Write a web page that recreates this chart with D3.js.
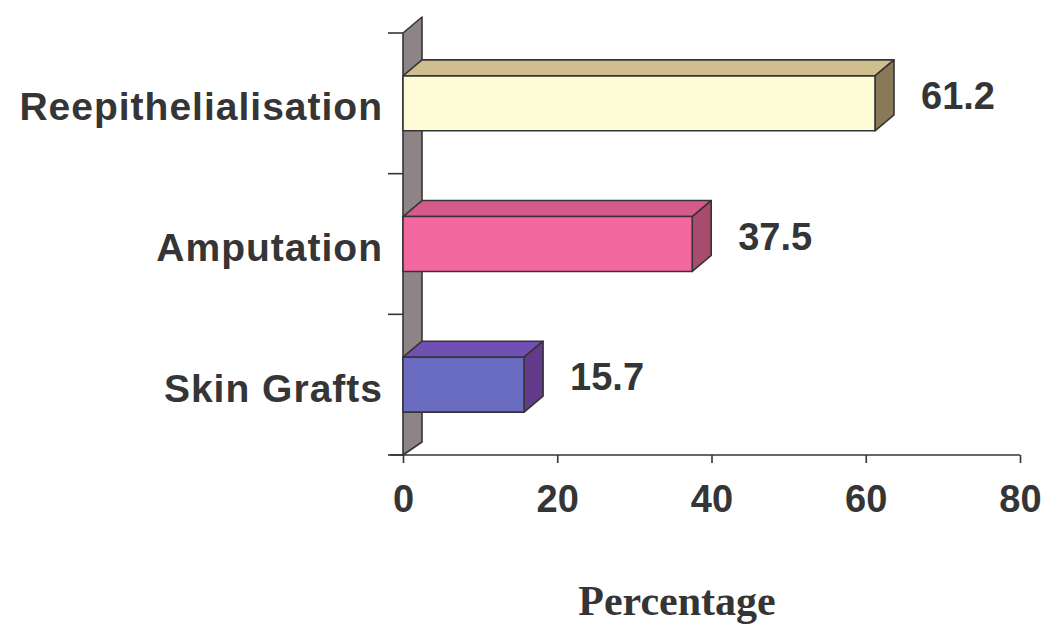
<!DOCTYPE html>
<html>
<head>
<meta charset="utf-8">
<script src="https://cdn.jsdelivr.net/npm/d3@7"></script>
<style>
  html, body { margin: 0; padding: 0; background: #ffffff; }
  svg { display: block; }
</style>
</head>
<body>
<svg id="chart" width="1049" height="630"></svg>
<script>
// Outcome categories, top to bottom
const categories = ["Reepithelialisation", "Amputation", "Skin Grafts"];
// Percentage for each category
const values = [61.2, 37.5, 15.7];
// Face colours of each 3D bar: front, top, side
const frontColors = ["#fdfcd6", "#f2679d", "#6a6cc2"];
const topColors   = ["#cfbf8e", "#d65b8b", "#7050b2"];
const sideColors  = ["#887a58", "#a84c6e", "#643a8a"];
// X axis ticks
const xTicks = [0, 20, 40, 60, 80];

const svg = d3.select("#chart");
const ink = "#353535";
const depthX = 19, depthY = -16;

const x = d3.scaleLinear().domain([0, 80]).range([403, 1020]);
const y = d3.scaleBand().domain(categories).range([33, 455]).paddingInner(0.61).paddingOuter(0.305);
const yOuter = d3.scaleBand().domain(categories).range([33, 455]);

// Back wall behind the bars
const x0 = x(0), yTop = 33, yBot = 455;
svg.append("path")
  .attr("d", `M${x0},${yBot} L${x0},${yTop} L${x0 + depthX},${yTop + depthY} L${x0 + depthX},${yBot - 13} Z`)
  .attr("fill", "#8d8585")
  .attr("stroke", ink)
  .attr("stroke-width", 1.6)
  .attr("stroke-linejoin", "round");

// Category ticks on the left edge of the wall
svg.append("g").selectAll("line")
  .data(categories.map(c => yOuter(c)).concat([yBot]))
  .join("line")
  .attr("x1", x0 - 15).attr("x2", x0)
  .attr("y1", d => d).attr("y2", d => d)
  .attr("stroke", ink).attr("stroke-width", 1.6);

// X axis
const xAxis = svg.append("g").attr("transform", `translate(0,${yBot})`)
  .call(d3.axisBottom(x).tickValues(xTicks).tickSize(8).tickPadding(22).tickSizeOuter(0));
xAxis.select(".domain").remove();
xAxis.append("line")
  .attr("x1", x0 - 13).attr("x2", x(80)).attr("y1", 0).attr("y2", 0)
  .attr("stroke", ink).attr("stroke-width", 1.6);
xAxis.selectAll(".tick line").attr("stroke", ink).attr("stroke-width", 1.6);
xAxis.selectAll(".tick text")
  .attr("fill", ink)
  .attr("font-family", "'Liberation Sans', Arial, sans-serif")
  .attr("font-weight", "bold")
  .attr("font-size", 38)
  .attr("dy", "0.71em");

// 3D bars
const bars = svg.append("g").selectAll("g")
  .data(categories.map((c, i) => ({ c, v: values[i], i })))
  .join("g");

bars.each(function(d) {
  const g = d3.select(this);
  const xa = x(0), xb = x(d.v);
  const ya = y(d.c), yb = y(d.c) + y.bandwidth();
  g.append("path")
    .attr("d", `M${xa},${ya} L${xa + depthX},${ya + depthY} L${xb + depthX},${ya + depthY} L${xb},${ya} Z`)
    .attr("fill", topColors[d.i]);
  g.append("path")
    .attr("d", `M${xb},${ya} L${xb + depthX},${ya + depthY} L${xb + depthX},${yb + depthY} L${xb},${yb} Z`)
    .attr("fill", sideColors[d.i]);
  g.append("rect")
    .attr("x", xa).attr("y", ya)
    .attr("width", xb - xa).attr("height", yb - ya)
    .attr("fill", frontColors[d.i]);
  g.selectAll("path, rect")
    .attr("stroke", ink).attr("stroke-width", 1.6).attr("stroke-linejoin", "round");
});

// Value labels beyond each bar
svg.append("g").selectAll("text")
  .data(categories.map((c, i) => ({ c, v: values[i] })))
  .join("text")
  .attr("x", d => x(d.v) + 46)
  .attr("y", d => y(d.c) + y.bandwidth() / 2 - 8)
  .attr("dy", "0.36em")
  .attr("fill", ink)
  .attr("font-family", "'Liberation Sans', Arial, sans-serif")
  .attr("font-weight", "bold")
  .attr("font-size", 38)
  .text(d => d.v.toFixed(1));

// Category labels
svg.append("g").selectAll("text")
  .data(categories)
  .join("text")
  .attr("x", 383)
  .attr("y", d => y(d) + y.bandwidth() / 2 + 3)
  .attr("dy", "0.36em")
  .attr("text-anchor", "end")
  .attr("fill", ink)
  .attr("font-family", "'Liberation Sans', Arial, sans-serif")
  .attr("font-weight", "bold")
  .attr("font-size", 39)
  .attr("letter-spacing", 1)
  .text(d => d);

// Axis title
svg.append("text")
  .attr("x", 677).attr("y", 615)
  .attr("text-anchor", "middle")
  .attr("fill", ink)
  .attr("font-family", "'Liberation Serif', 'Times New Roman', serif")
  .attr("font-weight", "bold")
  .attr("font-size", 42)
  .text("Percentage");
</script>
</body>
</html>
